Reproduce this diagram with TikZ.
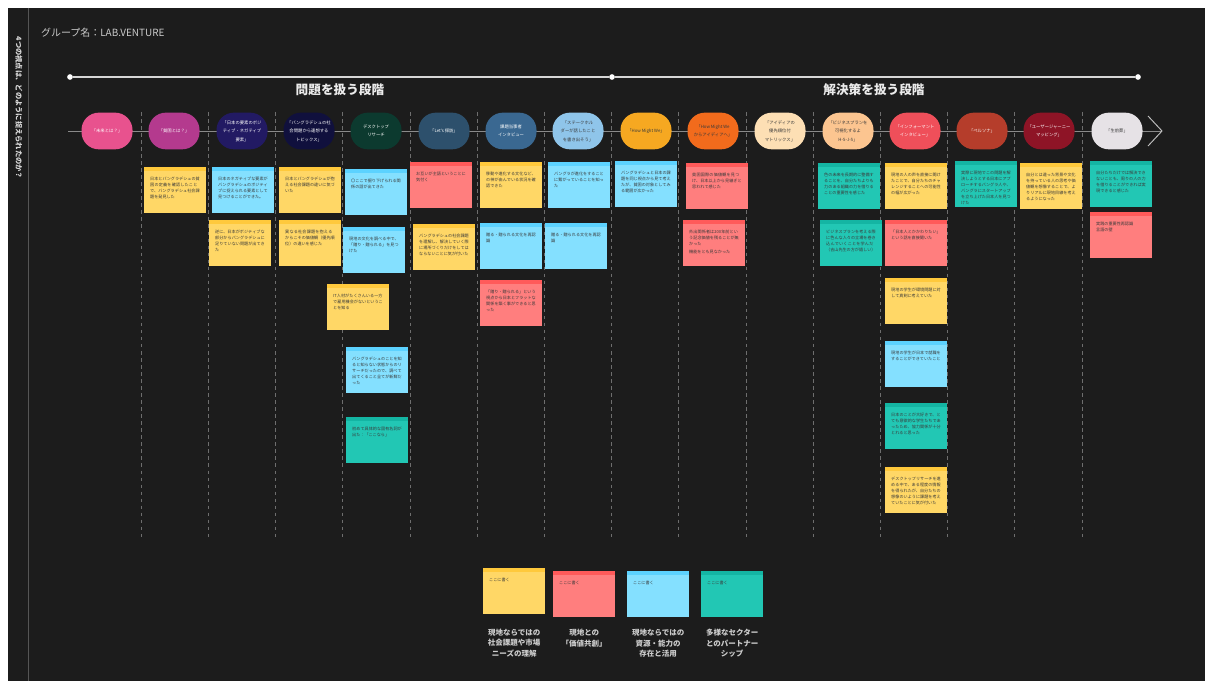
\documentclass[tikz,border=0pt]{standalone}
\usepackage{fontspec}
\setmainfont{Noto Sans CJK JP}
\XeTeXlinebreaklocale "ja"
\XeTeXlinebreakskip=0pt plus 0.5pt
\usetikzlibrary{positioning}

% 背景と線
\definecolor{bg}{HTML}{1C1C1C}
\definecolor{tline}{HTML}{D6D6D6}
\definecolor{sline}{HTML}{8A8A8A}
\definecolor{sep}{HTML}{6E6E6E}
\definecolor{notetxt}{HTML}{3A3A3A}
% 段階の色
\definecolor{pkA}{HTML}{E8528E}
\definecolor{pkB}{HTML}{B43A8E}
\definecolor{nvA}{HTML}{221A63}
\definecolor{nvB}{HTML}{10103D}
\definecolor{grA}{HTML}{0C3A2F}
\definecolor{stA}{HTML}{2D506C}
\definecolor{stB}{HTML}{3A6891}
\definecolor{lbA}{HTML}{8FC5EA}
\definecolor{orA}{HTML}{F6A821}
\definecolor{orB}{HTML}{F26B1C}
\definecolor{pcA}{HTML}{FDDFB4}
\definecolor{pcB}{HTML}{FCC590}
\definecolor{rdA}{HTML}{EF4F5A}
\definecolor{rdB}{HTML}{B53D2B}
\definecolor{rdC}{HTML}{8E1426}
\definecolor{gyA}{HTML}{E6E2E6}
% 付箋の色
\definecolor{nY}{HTML}{FFD766}
\definecolor{nYband}{HTML}{FFC93C}
\definecolor{nB}{HTML}{84E0FF}
\definecolor{nBband}{HTML}{5CD2FF}
\definecolor{nR}{HTML}{FF7E7E}
\definecolor{nRband}{HTML}{FF5A5A}
\definecolor{nT}{HTML}{22C7B4}
\definecolor{nTband}{HTML}{14B5A3}

% 付箋: 名前, 位置, 色, 文
\newcommand{\sticky}[4]{%
  \node[note, fill=#3] (#1) at (#2) {};
  \fill[#3band] (#1.north west) rectangle ([yshift=-0.12cm]#1.north east);
  \node[notetext] (#1t) at ([xshift=0.18cm,yshift=-0.3cm]#1.north west) {#4};
}

\begin{document}
\begin{tikzpicture}[x=0.03cm, y=-0.03cm,
    pill/.style={rounded corners=0.52cm, minimum width=1.53cm, minimum height=1.1cm,
      inner sep=0pt, align=center, font=\fontsize{3.7}{7.2}\selectfont, text=white},
    darktext/.style={text=notetxt},
    note/.style={minimum width=1.86cm, minimum height=1.38cm, anchor=north west, inner sep=0pt},
    notetext/.style={anchor=north west, text width=1.5cm, align=left, inner sep=0pt,
      font=\fontsize{3.5}{5.1}\selectfont, text=notetxt},
    dot/.style={circle, fill=white, minimum size=0.17cm, inner sep=0pt},
    stage/.style={font=\bfseries\fontsize{10.8}{12}\selectfont, text=white!92!black},
    lgtext/.style={align=center, font=\bfseries\fontsize{6.4}{9.2}\selectfont, text=white!80!black}
  ]
  \useasboundingbox (0,0) rectangle (1205,681);
  \fill[white] (0,0) rectangle (1205,681);
  \fill[bg] (8,8) rectangle (1205,681);
  \draw[white!25!bg, line width=0.6pt] (28,8) -- (28,681);

  % 見出し
  \node[rotate=-90, font=\bfseries\fontsize{6.2}{7}\selectfont, text=white!85!black] (side) at (19,108) {4つの視点は、どのように捉えられたのか？};
  \node[anchor=west, font=\fontsize{8.5}{10}\selectfont, text=white!80!black] (group) at (37,33) {グループ名：LAB.VENTURE};

  % 上の時間軸
  \node[dot] (t0) at (70,77) {};
  \node[dot] (tm) at (612,77) {};
  \node[dot] (t1) at (1138,77) {};
  \draw[tline, line width=1.1pt] (t0) -- (tm) -- (t1);
  \node[stage] (problem) at (340,90) {問題を扱う段階};
  \node[stage] (solution) at (874,90) {解決策を扱う段階};

  % 区切り線
  \foreach \i in {0,...,14}
    \draw[sep, dashed, line width=0.5pt] ({141+67.2*\i},112) -- ({141+67.2*\i},540);

  % 工程の線
  \coordinate (s0) at (68,131);
  \coordinate (s1) at (1162,131);
  \draw[sline, line width=0.8pt] (s0) -- (s1);
  \coordinate (c0) at (1148,116);
  \coordinate (c1) at (1148,146);
  \draw[white!75!black, line width=0.8pt] (c0) -- (s1) -- (c1);

  % 工程
  \node[pill, fill=pkA] (p1) at (107,131) {「未来とは？」};
  \node[pill, fill=pkB] (p2) at (174,131) {「貧困とは？」};
  \node[pill, fill=nvA] (p3) at (242,131) {「日本の要素のポジ\\ティブ・ネガティブ\\要素」};
  \node[pill, fill=nvB] (p4) at (309,131) {「バングラデシュの社\\会問題から連想する\\トピックス」};
  \node[pill, fill=grA] (p5) at (376,131) {デスクトップ\\リサーチ};
  \node[pill, fill=stA] (p6) at (444,131) {「Let's 探訪」};
  \node[pill, fill=stB] (p7) at (511,131) {課題当事者\\インタビュー};
  \node[pill, fill=lbA, darktext] (p8) at (578,131) {「ステークホル\\ダーが話したこと\\を書き出そう」};
  \node[pill, fill=orA, darktext] (p9) at (646,131) {「How Might We」};
  \node[pill, fill=orB, darktext] (p10) at (713,131) {「How Might We\\からアイディアへ」};
  \node[pill, fill=pcA, darktext] (p11) at (780,131) {「アイディアの\\優先順位付\\マトリックス」};
  \node[pill, fill=pcB, darktext] (p12) at (848,131) {「ビジネスプランを\\可視化するよ\\H-S-J-S」};
  \node[pill, fill=rdA] (p13) at (915,131) {「インフォーマント\\インタビュー」};
  \node[pill, fill=rdB] (p14) at (982,131) {「ペルソナ」};
  \node[pill, fill=rdC] (p15) at (1049,131) {「ユーザージャーニー\\マッピング」};
  \node[pill, fill=gyA, darktext] (p16) at (1117,131) {「生前葬」};

  % 付箋
  \sticky{a1}{144,167}{nY}{日本とバングラデシュの貧困の定義を確認したことで、バングラデシュ社会課題を発見した}
  \sticky{b1}{212,167}{nB}{日本のネガティブな要素がバングラデシュのポジティブに捉えられる要素として見つけることができた。}
  \sticky{b2}{209,220}{nY}{逆に、日本がポジティブな部分からバングラデシュに足りていない問題が出てきた}
  \sticky{c1}{279,167}{nY}{日本とバングラデシュが抱える社会課題の違いに気づいた}
  \sticky{c2}{279,220}{nY}{異なる社会課題を抱えるからこその価値観（優先順位）の違いを感じた}
  \sticky{d1}{345,169}{nB}{〇ここで掘り下げられる関係の話が出てきた}
  \sticky{d2}{343,227}{nB}{現地の文化を調べる中で、「贈り・贈られる」を見つけた}
  \sticky{d3}{327,284}{nY}{IT人材がたくさんいる一方で雇用機会がないということを知る}
  \sticky{d4}{346,347}{nB}{バングラデシュのことを知ると知らない状態からのリサーチだったので、調べて出てくること全てが新鮮だった}
  \sticky{d5}{346,417}{nT}{初めて具体的な固有名詞が出た：「ここなら」}
  \sticky{e1}{410,162}{nR}{お互いが主語ということに気付く}
  \sticky{e2}{413,224}{nY}{バングラデシュの社会課題を理解し、解決していく際に場所づくりだけをしてはならないことに気が付いた}
  \sticky{f1}{480,162}{nY}{移動や進化する文化など、の神が由んでいる状況を確認できた}
  \sticky{f2}{480,223}{nB}{贈る・贈られる文化を再認識}
  \sticky{f3}{480,280}{nR}{「贈り・贈られる」という視点から日本とフラットな関係を築く事ができると思った}
  \sticky{g1}{548,162}{nB}{バングラが進化をすることに繋がっていることを知った}
  \sticky{g2}{545,223}{nB}{贈る・贈られる文化を再認識}
  \sticky{h1}{615,161}{nB}{バングラデシュと日本の課題を同じ視点から見て考えたが、貧困の対象としてみる範囲が広かった}
  \sticky{i1}{686,163}{nR}{貧困国際の価値観を見つけ、日本以上から見継ぎと思われて感じた}
  \sticky{i2}{683,220}{nR}{外出関係者は200年前という記念価値を残ることが無かった\\[2pt]機能をとも見なかった}
  \sticky{k1}{818,163}{nT}{色の未来を長期的に整備することを、自分たちよりも力のある組織の力を借りることの重要性を感じた}
  \sticky{k2}{820,220}{nT}{ビジネスプランを考える際に色んな人々の立場を巻き込んでいくことを学んだ（吉山先生の方が嬉しい）}
  \sticky{m1}{885,163}{nY}{現地の人の声を直接に聞けたことで、自分たちのチャレンジすることへの可能性の幅が広がった}
  \sticky{m2}{885,220}{nR}{「日本人とかかわりたい」という話を直接聞いた}
  \sticky{m3}{885,278}{nY}{現地の学生が環境問題に対して真剣に考えていた}
  \sticky{m4}{885,341}{nB}{現地の学生が日本で就職をすることができていたこと}
  \sticky{m5}{885,403}{nT}{日本のことが大好きで、とても意欲的な学生たちであったため、協力関係が十分とれると思った}
  \sticky{m6}{885,467}{nY}{デスクトップリサーチを進める中で、ある程度の情報を得られたが、自分たちの想像のいように課題を考えていたことに気が付いた}
  \sticky{n1}{955,161}{nT}{実際に現地でこの問題を解決しようとする日本にアプローチするバングラ人や、バングラにスタートアップを立ち上げた日本人を見つけた}
  \sticky{o1}{1020,163}{nY}{自分とは違った背景や文化を持っている人の思考や価値観を想像することで、よりリアルに現地目線を考えるようになった}
  \sticky{q1}{1090,161}{nT}{自分たちだけでは解決できないことも、周りの人の力を借りることができれば実現できると感じた}
  \sticky{q2}{1090,212}{nR}{実践の重要性再認識\\言語の壁}

  % 凡例
  \sticky{lgY}{483,568}{nY}{ここに書く}
  \sticky{lgR}{553,571}{nR}{ここに書く}
  \sticky{lgB}{627,571}{nB}{ここに書く}
  \sticky{lgT}{701,571}{nT}{ここに書く}
  \node[lgtext, below=0.3cm of lgY] (lY) {現地ならではの\\社会課題や市場\\ニーズの理解};
  \node[lgtext, below=0.22cm of lgR] (lR) {現地との\\「価値共創」};
  \node[lgtext, below=0.22cm of lgB] (lB) {現地ならではの\\資源・能力の\\存在と活用};
  \node[lgtext, below=0.22cm of lgT] (lT) {多様なセクター\\とのパートナー\\シップ};
\end{tikzpicture}
\end{document}
